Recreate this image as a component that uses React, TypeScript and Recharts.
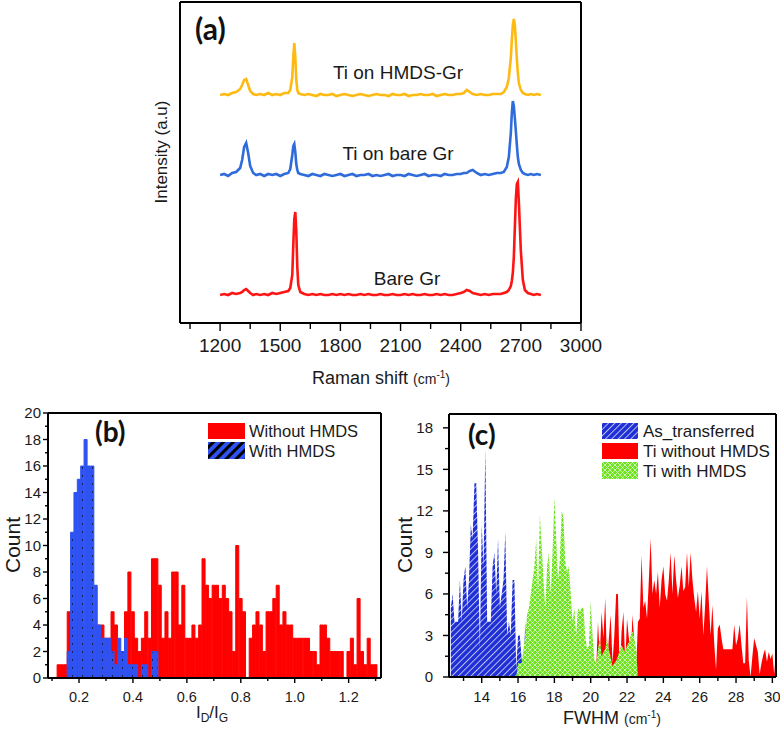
import React from 'react'
import { LineChart, Line, BarChart, Bar, AreaChart, Area, XAxis, YAxis } from 'recharts'

const FONT = '"Liberation Sans", Arial, Helvetica, sans-serif'
const BOLD_FONT = 'Lato, "Open Sans", sans-serif'

// ---------- (a) Raman spectra ----------
const ramanShift = [
  1200, 1220, 1240, 1260, 1280, 1300, 1310, 1320, 1330, 1340,
  1350, 1365, 1380, 1400, 1420, 1440, 1460, 1480, 1500, 1520,
  1540, 1550, 1560, 1565, 1570, 1575, 1580, 1585, 1590, 1600,
  1620, 1640, 1660, 1680, 1700, 1720, 1740, 1760, 1780, 1800,
  1820, 1840, 1860, 1880, 1900, 1920, 1940, 1960, 1980, 2000,
  2020, 2040, 2060, 2080, 2100, 2120, 2140, 2160, 2180, 2200,
  2220, 2240, 2260, 2280, 2300, 2320, 2340, 2360, 2380, 2400,
  2415, 2430, 2445, 2460, 2480, 2500, 2520, 2540, 2560, 2580,
  2600, 2615, 2630, 2640, 2650, 2655, 2660, 2665, 2670, 2675,
  2680, 2685, 2690, 2700, 2710, 2720, 2735, 2750, 2765, 2780,
  2800,
]
const bareGr = [
  28, 29, 28, 30, 29, 30, 31, 33, 34, 32,
  30, 28, 29, 28, 29, 28, 30, 29, 30, 31,
  32, 35, 48, 78, 104, 111, 92, 56, 38, 31,
  29, 28, 29, 28, 29, 28, 28, 29, 28, 29,
  28, 29, 28, 28, 29, 28, 29, 28, 28, 29,
  28, 28, 29, 28, 28, 29, 28, 29, 28, 28,
  29, 28, 28, 29, 28, 29, 28, 28, 29, 30,
  31, 33, 32, 30, 29, 28, 29, 28, 29, 29,
  29, 30, 31, 33, 37, 42, 50, 66, 95, 124,
  139, 141, 121, 72, 43, 33, 30, 29, 28, 29,
  28,
]
const tiOnBareGr = [
  148, 149, 147, 150, 151, 155, 163, 176, 180, 170,
  157, 150, 148, 149, 147, 149, 148, 149, 147, 149,
  150, 154, 168, 177, 179, 171, 159, 153, 150, 149,
  148, 147, 149, 148, 147, 149, 148, 147, 148, 149,
  147, 148, 149, 147, 148, 148, 149, 147, 148, 147,
  148, 149, 147, 148, 148, 147, 149, 148, 147, 148,
  149, 147, 148, 148, 147, 149, 148, 148, 149, 149,
  150, 150, 152, 153, 150, 148, 149, 148, 149, 150,
  150, 151, 156, 166, 190, 210, 222, 217, 205, 192,
  178, 166, 159, 153, 150, 149, 148, 149, 148, 149,
  148,
]
const tiOnHmdsGr = [
  228, 229, 228, 230, 231, 234, 238, 243, 244, 238,
  232, 229, 228, 229, 228, 230, 228, 229, 228, 230,
  230, 233, 246, 266, 280, 266, 243, 233, 230, 229,
  228, 229, 228, 227, 229, 228, 228, 229, 227, 228,
  229, 228, 227, 228, 229, 228, 227, 228, 229, 228,
  228, 227, 229, 228, 228, 229, 227, 228, 228, 229,
  228, 228, 229, 227, 228, 229, 228, 228, 229, 229,
  230, 233, 231, 229, 228, 229, 228, 228, 229, 229,
  229, 231, 236, 245, 265, 283, 298, 304, 298, 282,
  264, 250, 240, 233, 230, 229, 228, 229, 228, 229,
  228,
]
const ramanTicks = [1050, 1200, 1350, 1500, 1650, 1800, 1950, 2100, 2250, 2400, 2550, 2700, 2850, 3000]

// ---------- (b) ID/IG histogram ----------
const ratioBins = [
  0.125, 0.1375, 0.15, 0.1625, 0.175, 0.1875, 0.2, 0.2125, 0.225, 0.2375,
  0.25, 0.2625, 0.275, 0.2875, 0.3, 0.3125, 0.325, 0.3375, 0.35, 0.3625,
  0.375, 0.3875, 0.4, 0.4125, 0.425, 0.4375, 0.45, 0.4625, 0.475, 0.4875,
  0.5, 0.5125, 0.525, 0.5375, 0.55, 0.5625, 0.575, 0.5875, 0.6, 0.6125,
  0.625, 0.6375, 0.65, 0.6625, 0.675, 0.6875, 0.7, 0.7125, 0.725, 0.7375,
  0.75, 0.7625, 0.775, 0.7875, 0.8, 0.8125, 0.825, 0.8375, 0.85, 0.8625,
  0.875, 0.8875, 0.9, 0.9125, 0.925, 0.9375, 0.95, 0.9625, 0.975, 0.9875,
  1.0, 1.0125, 1.025, 1.0375, 1.05, 1.0625, 1.075, 1.0875, 1.1, 1.1125,
  1.125, 1.1375, 1.15, 1.1625, 1.175, 1.1875, 1.2, 1.2125, 1.225, 1.2375,
  1.25, 1.2625, 1.275, 1.2875, 1.3,
]
const withoutHmds = [
  1, 1, 1, 5, 4, 3, 5, 4, 3, 5,
  4, 3, 4, 4, 3, 3, 5, 4, 2, 2,
  5, 8, 5, 3, 2, 3, 5, 3, 9, 9,
  7, 3, 5, 3, 8, 8, 4, 7, 3, 3,
  4, 3, 4, 9, 7, 6, 7, 7, 6, 7,
  6, 5, 2, 10, 6, 5, 0, 3, 4, 5,
  4, 2, 5, 5, 6, 7, 4, 5, 4, 4,
  3, 3, 3, 3, 3, 2, 2, 1, 4, 4,
  3, 2, 2, 2, 2, 0, 2, 3, 1, 6,
  2, 1, 3, 1, 1,
]
// HMDS counts cover the first 30 bins only
const withHmds = [
  0, 0, 0, 2, 11, 14, 15, 16, 18, 16,
  16, 7, 4, 3, 3, 3, 2, 1, 3, 2,
  3, 1, 1, 1, 0, 1, 1, 0, 2, 2,
]
const ratioBinWidth = 0.0125
const ratioDomain: [number, number] = [0.085, 1.32]
const ratioTicks = [0.1, 0.2, 0.3, 0.4, 0.5, 0.6, 0.7, 0.8, 0.9, 1.0, 1.1, 1.2, 1.3]
const countTicksB = [0, 1, 2, 3, 4, 5, 6, 7, 8, 9, 10, 11, 12, 13, 14, 15, 16, 17, 18, 19, 20]

// ---------- (c) FWHM distributions ----------
const fwhmStep = 0.1
const fwhmFrom = 12.3
const fwhmTo = 30.2
const asTransferredFrom = 12.3
const asTransferred = [
  5, 6, 4, 4, 4, 7, 4, 7, 8, 5,
  7, 11, 10, 14, 14, 9, 2, 11, 8, 16.5,
  4, 4, 4, 8, 9, 6, 10, 5, 6, 7,
  10.5, 3, 4, 3, 7, 7, 0.5, 3, 3, 1.3,
  0.5, 4, 0,
]
const tiWithHmdsFrom = 15.9
const tiWithHmds = [
  0, 1, 1, 1, 2, 3, 4.5, 5, 6, 7,
  8, 10, 6, 11.7, 9.5, 7, 5, 8, 9, 6,
  9, 13, 10, 7, 8.5, 12, 11.5, 8.3, 7.6, 8,
  6, 4, 5, 3, 5, 4.7, 5, 5, 3, 2,
  2.3, 5.5, 3, 1.3, 1, 2, 2.8, 1.5, 1.8, 2,
  2.8, 2, 1.4, 0.8, 1, 1.2, 1.5, 2, 2.3, 2,
  1.8, 2.3, 2.5, 3, 3.3, 2.8, 2, 0,
]
const tiWithoutFrom = 20.3
const tiWithoutHmds = [
  0.5, 4, 1.5, 4.7, 2.8, 5.7, 0.9, 2.8, 4.5, 1,
  3, 6, 6, 0, 3.3, 4.7, 1, 4.2, 2.8, 1.3,
  4.5, 2.5, 0.5, 4, 4.2, 8.8, 5, 5.5, 4.2, 7,
  10, 6, 7, 6, 7.6, 5, 7, 8, 6, 5.5,
  7, 9, 6, 8.8, 7, 5.7, 6.6, 8, 6.2, 6.5,
  9, 6.5, 9, 7, 5.7, 4.7, 6.2, 4.2, 6.2, 3,
  5.2, 8, 5.5, 3, 5.2, 2.4, 0.5, 3.5, 3.8, 2.8,
  2, 2, 2, 2, 2, 2, 3.8, 2.3, 2.8, 3.8,
  2.3, 1, 1, 5.8, 1.2, 0, 1.5, 2.8, 2.3, 1.8,
  0.2, 1, 1.6, 2, 1.1, 1.8, 1.3, 1.7, 0.2, 1.8,
]
const fwhmTicks = [13, 14, 15, 16, 17, 18, 19, 20, 21, 22, 23, 24, 25, 26, 27, 28, 29, 30]
const countTicksC = [0, 1.5, 3, 4.5, 6, 7.5, 9, 10.5, 12, 13.5, 15, 16.5, 18]

// ---------- tables ----------
const ramanData = ramanShift.map((shift, i) => ({
  shift,
  bareGr: bareGr[i],
  tiOnBareGr: tiOnBareGr[i],
  tiOnHmdsGr: tiOnHmdsGr[i],
}))

const histData = ratioBins.map((ratio, i) => ({
  ratio,
  withoutHmds: withoutHmds[i],
  withHmds: withHmds[i] ?? 0,
}))

const pick = (arr: number[], from: number, x: number) => {
  const j = Math.round((x - from) / fwhmStep)
  return j >= 0 && j < arr.length ? arr[j] : undefined
}
const fwhmData: { fwhm: number; asTransferred?: number; tiWithHmds?: number; tiWithoutHmds?: number }[] = []
for (let i = 0; fwhmFrom + i * fwhmStep <= fwhmTo + 1e-6; i++) {
  const fwhm = Math.round((fwhmFrom + i * fwhmStep) * 10) / 10
  fwhmData.push({
    fwhm,
    asTransferred: pick(asTransferred, asTransferredFrom, fwhm),
    tiWithHmds: pick(tiWithHmds, tiWithHmdsFrom, fwhm),
    tiWithoutHmds: pick(tiWithoutHmds, tiWithoutFrom, fwhm),
  })
}

// ---------- tick renderers ----------
type TickOpts = {
  isMajor: (v: number) => boolean
  format: (v: number) => string
  fontSize: number
  majorLen: number
  minorLen: number
  gap: number
}

const bottomTick = (o: TickOpts) => (props: any) => {
  const { x, y, payload } = props
  const v = payload.value
  const major = o.isMajor(v)
  return (
    <g>
      <line x1={x} x2={x} y1={y} y2={y + (major ? o.majorLen : o.minorLen)} stroke="#000" strokeWidth={1.4} />
      {major && (
        <text x={x} y={y + o.gap} textAnchor="middle" fontSize={o.fontSize} fontFamily={FONT} fill="#1a1a1a">
          {o.format(v)}
        </text>
      )}
    </g>
  )
}

const leftTick = (o: TickOpts) => (props: any) => {
  const { x, y, payload } = props
  const v = payload.value
  const major = o.isMajor(v)
  return (
    <g>
      <line x1={x - (major ? o.majorLen : o.minorLen)} x2={x} y1={y} y2={y} stroke="#000" strokeWidth={1.4} />
      {major && (
        <text x={x - o.gap} y={y + o.fontSize * 0.36} textAnchor="end" fontSize={o.fontSize} fontFamily={FONT} fill="#1a1a1a">
          {o.format(v)}
        </text>
      )}
    </g>
  )
}

const ramanTick = bottomTick({
  isMajor: (v) => v % 300 === 0,
  format: (v) => String(v),
  fontSize: 19,
  majorLen: 8,
  minorLen: 6,
  gap: 29,
})
const ratioTick = bottomTick({
  isMajor: (v) => Math.round(v * 10) % 2 === 0,
  format: (v) => v.toFixed(1),
  fontSize: 14.5,
  majorLen: 5,
  minorLen: 3,
  gap: 24,
})
const countTickB = leftTick({
  isMajor: (v) => v % 2 === 0,
  format: (v) => String(v),
  fontSize: 15,
  majorLen: 5,
  minorLen: 3,
  gap: 7,
})
const fwhmTick = bottomTick({
  isMajor: (v) => v % 2 === 0,
  format: (v) => String(v),
  fontSize: 15,
  majorLen: 6,
  minorLen: 4,
  gap: 25,
})
const countTickC = leftTick({
  isMajor: (v) => Math.round(v * 2) % 6 === 0,
  format: (v) => String(v),
  fontSize: 15,
  majorLen: 6,
  minorLen: 4,
  gap: 16,
})

const frame = { stroke: '#000', strokeWidth: 2 }

export default function App() {
  // bar width follows the bin width on the ratio axis
  const histPlotWidth = 390 - 48 - 9
  const barPx = (ratioBinWidth / (ratioDomain[1] - ratioDomain[0])) * histPlotWidth

  return (
    <div style={{ position: 'absolute', left: 0, top: 0, width: 780, height: 729, background: '#fff', fontFamily: FONT }}>
      {/* (a) */}
      <div style={{ position: 'absolute', left: 0, top: 0 }}>
        <LineChart width={780} height={400} data={ramanData} margin={{ top: 1, right: 198, bottom: 76, left: 179 }}>
          <XAxis dataKey="shift" type="number" domain={[1000, 3000]} ticks={ramanTicks} interval={0}
            tickSize={0} tickMargin={0} tickLine={false} tick={ramanTick} axisLine={frame} height={1} />
          <XAxis xAxisId="top" orientation="top" type="number" domain={[1000, 3000]}
            tick={false} tickLine={false} axisLine={frame} height={1} />
          <YAxis type="number" domain={[0, 321]} tick={false} tickLine={false} axisLine={frame} width={1} />
          <YAxis yAxisId="right" orientation="right" type="number" domain={[0, 321]}
            tick={false} tickLine={false} axisLine={frame} width={1} />
          <Line dataKey="tiOnHmdsGr" type="linear" stroke="#FFBA12" strokeWidth={2.6} dot={false} isAnimationActive={false} />
          <Line dataKey="tiOnBareGr" type="linear" stroke="#2F6BDA" strokeWidth={2.6} dot={false} isAnimationActive={false} />
          <Line dataKey="bareGr" type="linear" stroke="#FF1414" strokeWidth={2.6} dot={false} isAnimationActive={false} />
        </LineChart>
      </div>

      {/* (b) */}
      <div style={{ position: 'absolute', left: 0, top: 400 }}>
        <BarChart width={390} height={329} data={histData} margin={{ top: 12, right: 8, bottom: 50, left: 47 }}
          barCategoryGap={0} barGap={0}>
          <XAxis xAxisId="with" dataKey="ratio" type="number" domain={ratioDomain} hide height={0} allowDataOverflow />
          <XAxis xAxisId="without" dataKey="ratio" type="number" domain={ratioDomain} ticks={ratioTicks} interval={0}
            tickSize={0} tickMargin={0} tickLine={false} tick={ratioTick} axisLine={frame} height={1} allowDataOverflow />
          <XAxis xAxisId="top" orientation="top" type="number" domain={ratioDomain}
            tick={false} tickLine={false} axisLine={frame} height={1} />
          <YAxis type="number" domain={[0, 20]} ticks={countTicksB} interval={0}
            tickSize={0} tickMargin={0} tickLine={false} tick={countTickB} axisLine={frame} width={1} />
          <YAxis yAxisId="right" orientation="right" type="number" domain={[0, 20]}
            tick={false} tickLine={false} axisLine={frame} width={1} />
          <Bar xAxisId="without" dataKey="withoutHmds" fill="#FF0000" stroke="#FF0000" strokeWidth={1}
            barSize={barPx} isAnimationActive={false} />
          <Bar xAxisId="with" dataKey="withHmds" fill="url(#bDots)" stroke="#2F52F2" strokeWidth={1}
            barSize={barPx} isAnimationActive={false} />
        </BarChart>
      </div>

      {/* (c) */}
      <div style={{ position: 'absolute', left: 390, top: 400 }}>
        <AreaChart width={390} height={329} data={fwhmData} margin={{ top: 13, right: 3, bottom: 51, left: 58 }}>
          <XAxis dataKey="fwhm" type="number" domain={[12.2, 30.2]} ticks={fwhmTicks} interval={0}
            tickSize={0} tickMargin={0} tickLine={false} tick={fwhmTick} axisLine={frame} height={1} allowDataOverflow />
          <XAxis xAxisId="top" orientation="top" type="number" domain={[12.2, 30.2]}
            tick={false} tickLine={false} axisLine={frame} height={1} />
          <YAxis type="number" domain={[0, 19]} ticks={countTicksC} interval={0}
            tickSize={0} tickMargin={0} tickLine={false} tick={countTickC} axisLine={frame} width={1} />
          <YAxis yAxisId="right" orientation="right" type="number" domain={[0, 19]}
            tick={false} tickLine={false} axisLine={frame} width={1} />
          <Area dataKey="tiWithoutHmds" type="linear" stroke="none" fill="#FF0000" fillOpacity={1} isAnimationActive={false} />
          <Area dataKey="asTransferred" type="linear" stroke="none" fill="url(#cHatch)" fillOpacity={1} isAnimationActive={false} />
          <Area dataKey="tiWithHmds" type="linear" stroke="none" fill="url(#cCross)" fillOpacity={1} isAnimationActive={false} />
        </AreaChart>
      </div>

      {/* texts, legends */}
      <svg width={780} height={729} style={{ position: 'absolute', left: 0, top: 0, pointerEvents: 'none' }}>
        <defs>
          <pattern id="bDots" patternUnits="userSpaceOnUse" width={5} height={8}>
            <rect width={5} height={8} fill="#2F52F2" />
            <rect x={2} y={3} width={1} height={1.6} fill="#000" opacity={0.75} />
          </pattern>
          <pattern id="bStripes" patternUnits="userSpaceOnUse" width={7} height={7} patternTransform="rotate(45)">
            <rect width={7} height={7} fill="#2F52F2" />
            <line x1={1.5} y1={0} x2={1.5} y2={7} stroke="#000" strokeWidth={3} />
          </pattern>
          <pattern id="cHatch" patternUnits="userSpaceOnUse" width={4.5} height={4.5} patternTransform="rotate(45)">
            <rect width={4.5} height={4.5} fill="#1F2FD6" />
            <line x1={0.5} y1={0} x2={0.5} y2={4.5} stroke="#fff" strokeWidth={0.8} opacity={0.85} />
          </pattern>
          <pattern id="cCross" patternUnits="userSpaceOnUse" width={5} height={5}>
            <rect width={5} height={5} fill="#6FE31F" />
            <path d="M0,0 L5,5 M5,0 L0,5" stroke="#fff" strokeWidth={0.7} opacity={0.9} />
          </pattern>
        </defs>

        {/* (a) */}
        <text x={195} y={40} fontFamily={BOLD_FONT} fontWeight={700} fontSize={30} fill="#111">(a)</text>
        <text x={398} y={79} textAnchor="middle" fontSize={19} fill="#1a1a1a">Ti on HMDS-Gr</text>
        <text x={398} y={160} textAnchor="middle" fontSize={19} fill="#1a1a1a">Ti on bare Gr</text>
        <text x={407} y={285} textAnchor="middle" fontSize={19} fill="#1a1a1a">Bare Gr</text>
        <text transform="translate(167,152) rotate(-90)" textAnchor="middle" fontSize={17} fill="#1a1a1a">Intensity (a.u)</text>
        <text x={381} y={384} textAnchor="middle" fontSize={18} fill="#1a1a1a">
          Raman shift <tspan fontSize={14}>(cm</tspan><tspan fontSize={10} dy={-6}>-1</tspan><tspan fontSize={14} dy={6}>)</tspan>
        </text>

        {/* (b) */}
        <text x={95} y={442} fontFamily={BOLD_FONT} fontWeight={700} fontSize={28} fill="#111">(b)</text>
        <rect x={208} y={423} width={37} height={16} fill="#FF0000" />
        <rect x={208} y={442} width={37} height={17} fill="url(#bStripes)" />
        <text x={249} y={437} fontSize={16.5} fill="#1a1a1a">Without HMDS</text>
        <text x={249} y={457} fontSize={16.5} fill="#1a1a1a">With HMDS</text>
        <text transform="translate(19.5,545) rotate(-90)" textAnchor="middle" fontSize={21} fill="#1a1a1a">Count</text>
        <text x={212} y={718} textAnchor="middle" fontSize={17} fill="#1a1a1a">
          I<tspan fontSize={12} dy={4}>D</tspan><tspan dy={-4}>/I</tspan><tspan fontSize={12} dy={4}>G</tspan>
        </text>

        {/* (c) */}
        <text x={468} y={445} fontFamily={BOLD_FONT} fontWeight={700} fontSize={28} fill="#111">(c)</text>
        <rect x={602} y={423} width={36} height={16} fill="url(#cHatch)" />
        <rect x={602} y={443} width={36} height={16} fill="#FF0000" />
        <rect x={602} y={462} width={36} height={17} fill="url(#cCross)" />
        <text x={643} y={437} fontSize={17} fill="#1a1a1a">As_transferred</text>
        <text x={643} y={457} fontSize={17} fill="#1a1a1a">Ti without HMDS</text>
        <text x={643} y={477} fontSize={17} fill="#1a1a1a">Ti with HMDS</text>
        <text transform="translate(412,545) rotate(-90)" textAnchor="middle" fontSize={21} fill="#1a1a1a">Count</text>
        <text x={612} y={724} textAnchor="middle" fontSize={18} fill="#1a1a1a">
          FWHM <tspan fontSize={14}>(cm</tspan><tspan fontSize={10} dy={-6}>-1</tspan><tspan fontSize={14} dy={6}>)</tspan>
        </text>
      </svg>
    </div>
  )
}
